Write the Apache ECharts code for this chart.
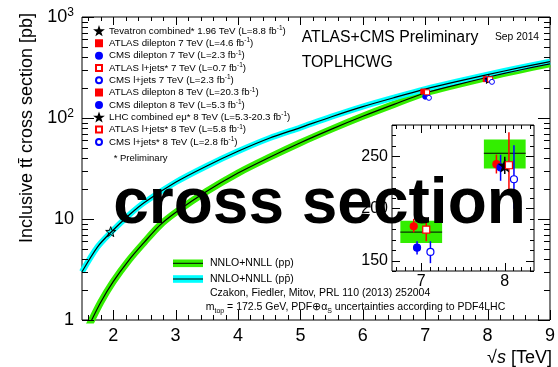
<!DOCTYPE html>
<html><head><meta charset="utf-8">
<script src="https://cdn.jsdelivr.net/npm/echarts@6/dist/echarts.min.js"></script>
<style>html,body{margin:0;padding:0;background:#fff}#c{width:558px;height:367px}</style>
</head><body><div id="c"></div>
<script>
// ---------------- DATA ----------------
const ppSqrtS   = [1.6, 1.8, 2.0, 2.25, 2.5, 2.75, 3.0, 3.5, 4.0, 4.5, 5.0, 5.5, 6.0, 6.5, 7.0, 7.5, 8.0, 8.5, 9.0];
const ppXsec    = [0.85, 1.5, 2.4, 3.9, 5.9, 8.7, 11.6, 18.8, 28.5, 40.7, 56.9, 77.6, 104, 136.5, 177, 213, 253, 297, 344];
const ppbarSqrtS = [1.5, 1.75, 1.96, 2.25, 2.5, 3.0, 3.5, 4.0, 4.5, 5.0, 5.5, 6.0, 6.5, 7.0, 7.5, 8.0, 8.5, 9.0];
const ppbarXsec  = [3.0, 5.3, 7.35, 10.9, 14.6, 23.1, 33.5, 46.8, 63, 80.4, 103, 129.6, 159, 193, 229, 269, 313, 362];

const measNames = [
  'Tevatron combined* 1.96 TeV (L=8.8 fb-1)',
  'ATLAS dilepton 7 TeV (L=4.6 fb-1)',
  'CMS dilepton 7 TeV (L=2.3 fb-1)',
  'ATLAS l+jets* 7 TeV (L=0.7 fb-1)',
  'CMS l+jets 7 TeV (L=2.3 fb-1)',
  'ATLAS dilepton 8 TeV (L=20.3 fb-1)',
  'CMS dilepton 8 TeV (L=5.3 fb-1)',
  'LHC combined e\u03bc* 8 TeV (L=5.3-20.3 fb-1)',
  'ATLAS l+jets* 8 TeV (L=5.8 fb-1)',
  'CMS l+jets* 8 TeV (L=2.8 fb-1)'
];
const measSqrtS = [1.96, 7, 7, 7, 7, 8, 8, 8, 8, 8];
const measXsec  = [7.5, 182.9, 162.4, 179.6, 158.3, 242.4, 239.3, 241.1, 241.4, 228.0];
const measLow   = [null, 177.0, 155.8, 168.5, 147.5, 233.5, 226.5, 233.0, 215.6, 199.7];
const measHigh  = [null, 190.0, 168.5, 191.0, 168.5, 251.6, 251.5, 249.5, 273.0, 260.5];

const theorySqrtS   = [7, 8];
const theoryCentral = [177.3, 252.9];
const theoryLow     = [166.9, 238.4];
const theoryHigh    = [188.2, 266.2];

const xTickLabels = [2, 3, 4, 5, 6, 7, 8, 9];
const yTickLabels = [1, 10, 100, 1000];
const insetXTickLabels = [7, 8];
const insetYTickLabels = [150, 200, 250];

// ---------------- STYLE ----------------
const FONT = '"Liberation Sans", Arial, Helvetica, sans-serif';
const GREEN = '#33ee00', CYAN = '#00ffff', RED = '#ff0000', BLUE = '#0000ff';
const STAR = 'path://M0,-10L2.35,-3.24L9.51,-3.09L3.8,1.24L5.88,8.09L0,4.2L-5.88,8.09L-3.8,1.24L-9.51,-3.09L-2.35,-3.24Z';
const measStyle = [
  {symbol: STAR, color: 'rgba(0,0,0,0)', border: '#000', size: 10, bar: '#000'},
  {symbol: 'rect', color: RED, border: RED, size: 6, bar: RED},
  {symbol: 'circle', color: BLUE, border: BLUE, size: 6, bar: BLUE},
  {symbol: 'rect', color: '#fff', border: RED, size: 6, bar: RED},
  {symbol: 'circle', color: '#fff', border: BLUE, size: 6, bar: BLUE},
  {symbol: 'rect', color: RED, border: RED, size: 6, bar: RED},
  {symbol: 'circle', color: BLUE, border: BLUE, size: 6, bar: BLUE},
  {symbol: STAR, color: '#000', border: '#000', size: 9, bar: '#000'},
  {symbol: 'rect', color: '#fff', border: RED, size: 6, bar: RED},
  {symbol: 'circle', color: '#fff', border: BLUE, size: 6, bar: BLUE}
];
const mainOffset  = [0, -0.03, 0.0, 0.03, 0.06, -0.03, 0.0, 0.02, 0.04, 0.07];
const insetOffset = [0, -0.09, -0.05, 0.06, 0.11, -0.10, -0.05, 0.0, 0.05, 0.11];
const BOX_HALF = 0.25;
const MAIN_X = [1.5, 9], MAIN_Y = [1, 1000], INSET_X = [6.65, 8.35], INSET_Y = [140, 280];

// tick positions (axis decoration): [value, lenNear, lenFar, kind 0=x 1=y]
const mainTicks = [];
xTickLabels.forEach(v => mainTicks.push([v, 10, 8, 0]));
for (let i = 8; i <= 44; i++) if (i % 5) mainTicks.push([i / 5, 5, 4, 0]);
yTickLabels.forEach(v => mainTicks.push([v, 12, 12, 1]));
[1, 10, 100].forEach(d => { for (let k = 2; k <= 9; k++) mainTicks.push([k * d, 6, 6, 1]); });
const insetTicks = [];
insetXTickLabels.forEach(v => insetTicks.push([v, 8, 8, 0]));
for (let i = 67; i <= 83; i++) if (i % 10) insetTicks.push([i / 10, 4, 4, 0]);
insetYTickLabels.forEach(v => insetTicks.push([v, 8, 8, 1]));
for (let v = 140; v <= 280; v += 10) if (v % 50) insetTicks.push([v, 4, 4, 1]);

function ax(grid, pos, type, min, max, labelVals, labelOpt) {
  const a = {
    type, gridIndex: grid, position: pos, min, max,
    axisLine: {show: false, onZero: false},
    axisTick: {show: false},
    splitLine: {show: false}, minorTick: {show: false}, minorSplitLine: {show: false},
    axisLabel: Object.assign({show: true, customValues: labelVals, color: '#000', fontFamily: FONT}, labelOpt)
  };
  if (type === 'log') a.logBase = 10;
  return a;
}
const supFmt = v => v === 1000 ? '10{s|3}' : v === 100 ? '10{s|2}' : String(v);

const xAxes = [
  ax(0, 'bottom', 'value', MAIN_X[0], MAIN_X[1], xTickLabels, {fontSize: 18, margin: 7}),
  ax(1, 'bottom', 'value', INSET_X[0], INSET_X[1], insetXTickLabels, {fontSize: 16, margin: 3})
];
const yAxes = [
  ax(0, 'left', 'log', MAIN_Y[0], MAIN_Y[1], yTickLabels, {fontSize: 18, margin: 8, lineHeight: 20, formatter: supFmt,
      rich: {s: {fontSize: 12, lineHeight: 12, verticalAlign: 'top', fontFamily: FONT, color: '#000'}}}),
  ax(1, 'left', 'value', INSET_Y[0], INSET_Y[1], insetYTickLabels, {fontSize: 16, margin: 4})
];

const series = [];
function curve(xs, ys, color, width, z) {
  series.push({type: 'line', xAxisIndex: 0, yAxisIndex: 0, data: xs.map((x, i) => [x, ys[i]]),
    symbol: 'none', smooth: 0.3, clip: true, z, lineStyle: {color, width}, silent: true});
}
curve(ppSqrtS, ppXsec, GREEN, 7, 2);
curve(ppbarSqrtS, ppbarXsec, CYAN, 6, 3);
curve(ppSqrtS, ppXsec, '#000', 1.2, 4);
curve(ppbarSqrtS, ppbarXsec, '#000', 1.2, 4);

measNames.forEach((name, i) => {
  const st = measStyle[i];
  series.push({type: 'scatter', name, xAxisIndex: 0, yAxisIndex: 0, z: 6,
    data: [[measSqrtS[i] + mainOffset[i], measXsec[i]]],
    symbol: st.symbol, symbolSize: i === 0 ? st.size : st.size - 1,
    itemStyle: {color: st.color, borderColor: st.border, borderWidth: 1, opacity: 1}});
});

// inset: theory boxes
series.push({type: 'custom', xAxisIndex: 1, yAxisIndex: 1, z: 2, silent: true,
  data: theorySqrtS.map((x, i) => [x, theoryLow[i], theoryHigh[i], theoryCentral[i]]),
  encode: {x: 0, y: [1, 2]},
  renderItem: (p, api) => {
    const x = api.value(0);
    const tl = api.coord([x - BOX_HALF, api.value(2)]);
    const br = api.coord([x + BOX_HALF, api.value(1)]);
    const c1 = api.coord([x - BOX_HALF, api.value(3)]);
    const c2 = api.coord([x + BOX_HALF, api.value(3)]);
    return {type: 'group', children: [
      {type: 'rect', shape: {x: tl[0], y: tl[1], width: br[0] - tl[0], height: br[1] - tl[1]}, style: {fill: GREEN}},
      {type: 'line', shape: {x1: c1[0], y1: c1[1], x2: c2[0], y2: c2[1]}, style: {stroke: '#000', lineWidth: 1}}
    ]};
  }});
// inset: error bars
const errData = [];
for (let i = 1; i < measNames.length; i++) errData.push([measSqrtS[i] + insetOffset[i], measLow[i], measHigh[i], i]);
series.push({type: 'custom', xAxisIndex: 1, yAxisIndex: 1, z: 3, silent: true, data: errData,
  encode: {x: 0, y: [1, 2]},
  renderItem: (p, api) => {
    const i = api.value(3);
    const a = api.coord([api.value(0), api.value(1)]);
    const b = api.coord([api.value(0), api.value(2)]);
    return {type: 'line', shape: {x1: a[0], y1: a[1], x2: b[0], y2: b[1]}, style: {stroke: measStyle[i].bar, lineWidth: 1.5}};
  }});
// inset: markers
for (let i = 1; i < measNames.length; i++) {
  const st = measStyle[i];
  series.push({type: 'scatter', name: measNames[i] + ' (inset)', xAxisIndex: 1, yAxisIndex: 1, z: 5,
    data: [[measSqrtS[i] + insetOffset[i], measXsec[i]]],
    symbol: st.symbol === 'rect' && st.color !== '#fff' ? 'circle' : st.symbol,
    symbolSize: st.symbol === STAR ? 11 : 7,
    itemStyle: {color: st.color, borderColor: st.border, borderWidth: 1.2, opacity: 1}});
}

// ---------------- TEXT / GRAPHICS ----------------
const graphics = [];
function txt(x, y, text, size, o) {
  o = o || {};
  graphics.push({type: 'text', x, y, z: o.z || 50, rotation: o.rotation || 0, silent: true,
    style: Object.assign({text, fontSize: size, fontFamily: FONT, fontWeight: o.weight || 'normal', fill: '#000',
      align: o.align || 'left', verticalAlign: o.va || 'middle',
      textAlign: o.align || 'left', textVerticalAlign: o.va || 'middle'}, o.style || {})});
}
const mctx = document.createElement('canvas').getContext('2d');
function tw(text, size) { mctx.font = size + 'px ' + FONT; return mctx.measureText(text).width; }

txt(301.7, 38, 'ATLAS+CMS Preliminary', 15.8);
txt(301.7, 63, 'TOPLHCWG', 15.8);
txt(495, 37, 'Sep 2014', 10.3);
txt(113.7, 158.3, '* Preliminary', 9.5);
txt(27, 128, 'Inclusive tt\u0304 cross section [pb]', 18, {align: 'center', rotation: Math.PI / 2});
(function () {
  const parts = [['\u221a', 'normal'], ['s', 'italic'], [' [TeV]', 'normal']];
  let w = 0; parts.forEach(p => { w += tw(p[0], 18); });
  let x = 552 - w;
  parts.forEach(p => { txt(x, 358, p[0], 18, {style: {fontStyle: p[1]}}); x += tw(p[0], 18); });
})();
[[GREEN, 263.3, 'NNLO+NNLL (pp)'], [CYAN, 279, 'NNLO+NNLL (pp\u0304)']].forEach(([c, y, t]) => {
  graphics.push({type: 'rect', z: 40, silent: true, shape: {x: 173, y: y - 3.8, width: 30, height: 7.6}, style: {fill: c}});
  graphics.push({type: 'line', z: 41, silent: true, shape: {x1: 173, y1: y, x2: 203, y2: y}, style: {stroke: '#000', lineWidth: 1}});
  txt(210, y, t, 10.5);
});
txt(210, 293.3, 'Czakon, Fiedler, Mitov, PRL 110 (2013) 252004', 10.5);
(function () {
  const parts = [['m', 10.5, 0], ['top', 7, 3.5], [' = 172.5 GeV, PDF\u2295\u03b1', 10.5, 0], ['S', 7, 3.5], [' uncertainties according to PDF4LHC', 10.5, 0]];
  let x = 205.7;
  parts.forEach(p => { txt(x, 307.3 + p[2], p[0], p[1]); x += tw(p[0], p[1]); });
})();
txt(319.5, 205, 'cross section', 64, {align: 'center', weight: 'bold', z: 100});

const option = {
  animation: false,
  backgroundColor: '#fff',
  grid: [
    {left: 82, top: 17, width: 469, height: 303, containLabel: false, show: true, borderColor: '#000', borderWidth: 1, backgroundColor: 'rgba(0,0,0,0)'},
    {left: 392, top: 125, width: 142, height: 146, containLabel: false, show: true, backgroundColor: '#fff', borderColor: '#000', borderWidth: 1, z: 1}
  ],
  xAxis: xAxes,
  yAxis: yAxes,
  legend: {
    show: true, orient: 'vertical', left: 95, top: 24.8, padding: 0, itemGap: 0,
    itemWidth: 6, itemHeight: 6, selectedMode: false,
    data: measNames,
    formatter: n => n.replace('fb-1)', 'fb{s|-1})'),
    textStyle: {fontFamily: FONT, fontSize: 9.7, color: '#000', lineHeight: 12.33, padding: [0, 0, 0, 2],
      rich: {s: {fontSize: 6.5, lineHeight: 8, verticalAlign: 'top', fontFamily: FONT, color: '#000'}}}
  },
  tooltip: {show: false},
  series,
  graphic: {elements: graphics}
};
const chart = echarts.init(document.getElementById('c'), null, {renderer: 'canvas'});
chart.setOption(option);

// axis ticks, placed through the chart's own scales
const tickEls = [];
function tickLine(x1, y1, x2, y2) {
  tickEls.push({type: 'line', z: 45, silent: true, shape: {x1, y1, x2, y2}, style: {stroke: '#000', lineWidth: 1}});
}
function addTicks(ticks, gi, xr, yr) {
  ticks.forEach(t => {
    if (t[3] === 0) {
      const pb = chart.convertToPixel({gridIndex: gi}, [t[0], yr[0]]);
      const pt = chart.convertToPixel({gridIndex: gi}, [t[0], yr[1]]);
      const x = Math.round(pb[0]) + 0.5;
      tickLine(x, pb[1], x, pb[1] - t[1]);
      tickLine(x, pt[1], x, pt[1] + t[2]);
    } else {
      const pl = chart.convertToPixel({gridIndex: gi}, [xr[0], t[0]]);
      const pr = chart.convertToPixel({gridIndex: gi}, [xr[1], t[0]]);
      const y = Math.round(pl[1]) + 0.5;
      tickLine(pl[0], y, pl[0] + t[1], y);
      tickLine(pr[0], y, pr[0] - t[2], y);
    }
  });
}
addTicks(mainTicks, 0, MAIN_X, MAIN_Y);
addTicks(insetTicks, 1, INSET_X, INSET_Y);
chart.setOption({graphic: {elements: graphics.concat(tickEls)}});
</script>
</body></html>
